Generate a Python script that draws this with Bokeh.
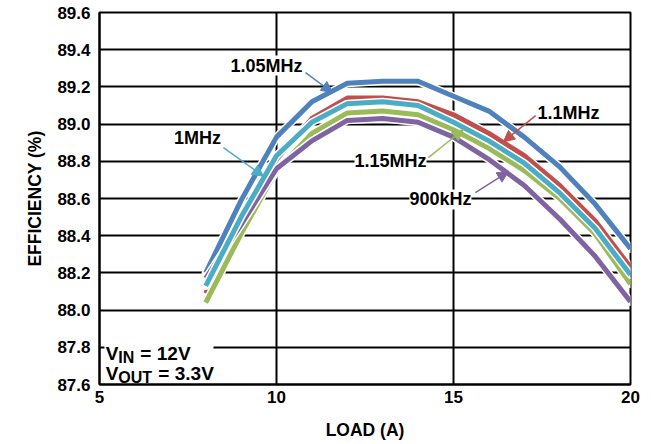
from bokeh.plotting import figure
from bokeh.models import FixedTicker, Label, Arrow, NormalHead, BoxAnnotation
from bokeh.embed import file_html
from bokeh.resources import INLINE

# Efficiency vs. load at several switching frequencies
load_a = [8, 9, 10, 11, 12, 13, 14, 15, 16, 17, 18, 19, 20]
eff_1p05mhz = [88.20, 88.59, 88.93, 89.12, 89.22, 89.23, 89.23, 89.15, 89.07, 88.93, 88.77, 88.57, 88.33]
eff_1p1mhz = [88.09, 88.47, 88.81, 89.03, 89.14, 89.14, 89.12, 89.05, 88.95, 88.83, 88.67, 88.48, 88.23]
eff_1p15mhz = [88.04, 88.41, 88.75, 88.95, 89.06, 89.07, 89.05, 88.97, 88.87, 88.75, 88.60, 88.41, 88.14]
eff_900khz = [88.17, 88.46, 88.76, 88.91, 89.02, 89.03, 89.01, 88.93, 88.81, 88.67, 88.49, 88.29, 88.045]
eff_1mhz = [88.13, 88.50, 88.83, 89.01, 89.11, 89.12, 89.10, 89.01, 88.91, 88.79, 88.63, 88.44, 88.19]

x_ticks = [5, 10, 15, 20]
y_ticks = [87.6, 87.8, 88.0, 88.2, 88.4, 88.6, 88.8, 89.0, 89.2, 89.4, 89.6]
y_tick_labels = ["87.6", "87.8", "88.0", "88.2", "88.4", "88.6", "88.8", "89.0", "89.2", "89.4", "89.6"]

FONT = "Liberation Sans"
BLUE = "#4F81BD"
RED = "#C0504D"
GREEN = "#9BBB59"
PURPLE = "#8064A2"
CYAN = "#4BACC6"

p = figure(width=651, height=444, output_backend="svg", toolbar_location=None,
           x_range=(5, 20), y_range=(87.6, 89.6),
           min_border_left=99, min_border_right=21, min_border_top=12, min_border_bottom=60)
p.background_fill_color = "white"
p.border_fill_color = "white"
p.outline_line_color = "black"
p.outline_line_width = 2

for ax in (p.xaxis[0], p.yaxis[0]):
    ax.axis_line_color = "black"
    ax.axis_line_width = 2
    ax.major_tick_out = 0
    ax.major_tick_in = 0
    ax.minor_tick_line_color = None
    ax.major_label_text_font = FONT
    ax.major_label_text_font_style = "bold"
    ax.major_label_text_font_size = "17px"
    ax.major_label_text_color = "black"
    ax.axis_label_text_font = FONT
    ax.axis_label_text_font_style = "bold"
    ax.axis_label_text_font_size = "17.5px"
    ax.axis_label_text_color = "black"

p.xaxis.ticker = FixedTicker(ticks=x_ticks)
p.yaxis.ticker = FixedTicker(ticks=y_ticks)
p.yaxis.major_label_overrides = {t: s for t, s in zip(y_ticks, y_tick_labels)}
p.xaxis.major_label_standoff = 6
p.yaxis.major_label_standoff = 9
p.xaxis.axis_label = "LOAD (A)"
p.yaxis.axis_label = "EFFICIENCY (%)"
p.xaxis.axis_label_standoff = 14
p.yaxis.axis_label_standoff = 9

p.xgrid.ticker = FixedTicker(ticks=x_ticks)
p.ygrid.ticker = FixedTicker(ticks=y_ticks)
for g in (p.xgrid[0], p.ygrid[0]):
    g.grid_line_color = "black"
    g.grid_line_width = 2

# Curves: white halo underneath each coloured trace
series = [
    (eff_1p05mhz, BLUE),
    (eff_1p1mhz, RED),
    (eff_1p15mhz, GREEN),
    (eff_900khz, PURPLE),
    (eff_1mhz, CYAN),
]
for ys, col in series:
    p.line(load_a, ys, line_color="white", line_width=8, line_join="round", line_cap="round")
    p.line(load_a, ys, line_color=col, line_width=5, line_join="round")

# Callout labels with arrows pointing at each curve
callouts = [
    ("1.05MHz", 9.72, 89.315, BLUE, (10.82, 89.277), (11.58, 89.17)),
    ("1MHz", 7.77, 88.923, CYAN, (8.50, 88.874), (9.63, 88.72)),
    ("1.15MHz", 13.22, 88.80, GREEN, (14.29, 88.820), (15.28, 88.971)),
    ("1.1MHz", 18.25, 89.06, RED, (17.32, 89.046), (16.41, 88.905)),
    ("900kHz", 14.63, 88.595, PURPLE, (15.62, 88.632), (16.55, 88.745)),
]
for text, lx, ly, col, tail, tip in callouts:
    p.add_layout(Arrow(x_start=tail[0], y_start=tail[1], x_end=tip[0], y_end=tip[1],
                       line_color=col, line_width=1.5,
                       end=NormalHead(size=11, fill_color=col, line_color=col)))
    p.add_layout(Label(x=lx, y=ly, text=text, text_align="center", text_baseline="middle",
                       text_font=FONT, text_font_style="bold", text_font_size="18px",
                       text_color="black", background_fill_color="white",
                       background_fill_alpha=1.0))

# Operating conditions box
p.add_layout(BoxAnnotation(left=5.14, right=8.22, bottom=87.615, top=87.91,
                           fill_color="white", fill_alpha=1.0, line_color=None, level="overlay"))


def cond_line(y, sub, rest, sub_w):
    common = dict(text_font=FONT, text_font_style="bold", text_color="black", level="overlay",
                  text_align="left", text_baseline="alphabetic")
    p.add_layout(Label(x=5.18, y=y, text="V", text_font_size="19px", **common))
    p.add_layout(Label(x=5.18, y=y, x_offset=12.5, y_offset=-4, text=sub,
                       text_font_size="16px", **common))
    p.add_layout(Label(x=5.18, y=y, x_offset=12.5 + sub_w + 6, text=rest,
                       text_font_size="19px", **common))


cond_line(87.768, "IN", "= 12V", 16)
cond_line(87.66, "OUT", "= 3.3V", 34)

open("out.html", "w").write(file_html(p, INLINE))
